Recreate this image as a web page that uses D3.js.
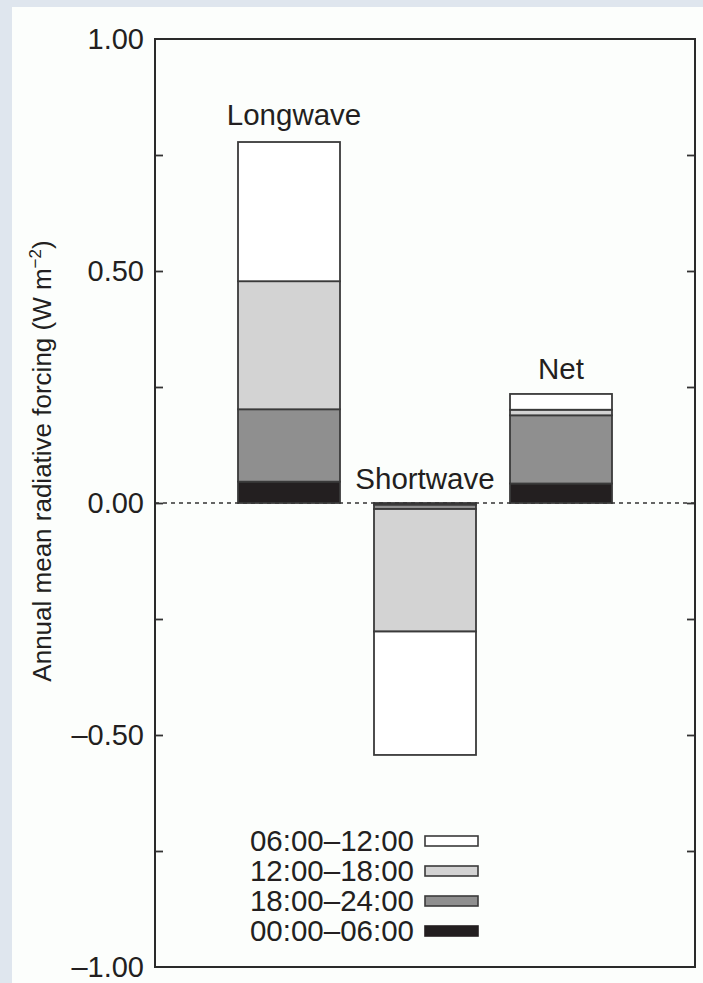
<!DOCTYPE html>
<html>
<head>
<meta charset="utf-8">
<script src="https://cdn.jsdelivr.net/npm/d3@7"></script>
<style>
  html, body { margin: 0; padding: 0; background: #dfe6ee; }
  svg { display: block; }
  text { font-family: "Liberation Sans", Arial, Helvetica, sans-serif; fill: #231f20; }
</style>
</head>
<body>
<svg id="chart" width="703" height="983"></svg>
<script>
// Forcing components (W m^-2), one value per time-of-day window
const categories = ["Longwave", "Shortwave", "Net"];
const periods = ["00:00–06:00", "18:00–24:00", "12:00–18:00", "06:00–12:00"];
const night   = [0.046, -0.004, 0.042];   // 00:00–06:00
const evening = [0.156, -0.009, 0.147];   // 18:00–24:00
const afternoon = [0.276, -0.264, 0.012]; // 12:00–18:00
const morning = [0.300, -0.266, 0.034];   // 06:00–12:00
const yTicks = [-1, -0.5, 0, 0.5, 1];
const yMinor = [-0.75, -0.25, 0.25, 0.75];
const legendOrder = ["06:00–12:00", "12:00–18:00", "18:00–24:00", "00:00–06:00"];

const fills = {
  "00:00–06:00": "#231f20",
  "18:00–24:00": "#8f8f8f",
  "12:00–18:00": "#d3d3d3",
  "06:00–12:00": "#ffffff"
};

const rows = categories.map((c, i) => ({
  category: c,
  "00:00–06:00": night[i],
  "18:00–24:00": evening[i],
  "12:00–18:00": afternoon[i],
  "06:00–12:00": morning[i]
}));

const svg = d3.select("#chart");

// paper panel
svg.append("rect").attr("x", 12).attr("y", 7).attr("width", 703 - 12).attr("height", 983 - 7)
  .attr("fill", "#fcfefc");

const plot = { left: 155, right: 695, top: 39, bottom: 967 };

const y = d3.scaleLinear().domain([-1, 1]).range([plot.bottom, plot.top]);
const x = d3.scaleBand().domain(categories).range([221, 629])
  .paddingInner(0.25).paddingOuter(0.125);

const stack = d3.stack().keys(periods).offset(d3.stackOffsetDiverging);
const series = stack(rows);

// stacked bars
const layers = svg.append("g").selectAll("g").data(series).join("g")
  .attr("fill", d => fills[d.key]);
layers.selectAll("rect").data(d => d).join("rect")
  .attr("x", d => x(d.data.category))
  .attr("width", x.bandwidth())
  .attr("y", d => y(Math.max(d[0], d[1])))
  .attr("height", d => Math.abs(y(d[0]) - y(d[1])))
  .attr("stroke", "#3a3a3a")
  .attr("stroke-width", 1.8);

// zero reference line
svg.append("line")
  .attr("x1", plot.left).attr("x2", plot.right)
  .attr("y1", y(0)).attr("y2", y(0))
  .attr("stroke", "#333").attr("stroke-width", 1.5)
  .attr("stroke-dasharray", "4,4");

// bar labels
const barTop = rows.map(r => d3.sum(periods, k => Math.max(0, r[k])));
const labelPos = {
  Longwave: [5, y(barTop[0]) - 17],
  Shortwave: [0, y(0) - 14],
  Net: [0, y(barTop[2]) - 15]
};
svg.append("g").selectAll("text").data(categories).join("text")
  .attr("x", d => x(d) + x.bandwidth() / 2 + labelPos[d][0])
  .attr("y", d => labelPos[d][1])
  .attr("text-anchor", "middle")
  .attr("font-size", 29.5)
  .text(d => d);

// axes
const fmt = d => d3.format(".2f")(d).replace("−", "–");
const axL = svg.append("g").attr("transform", `translate(${plot.left},0)`)
  .call(d3.axisLeft(y).tickValues(yTicks).tickFormat(fmt).tickSize(0).tickPadding(11));
axL.select(".domain").remove();
axL.selectAll("text").attr("font-size", 29).attr("fill", "#231f20")
  .style("font-family", "'Liberation Sans', Arial, sans-serif");

const tickVals = yTicks.concat(yMinor).filter(v => v > -1 && v < 1);
svg.append("g").attr("transform", `translate(${plot.left},0)`)
  .call(d3.axisLeft(y).tickValues(tickVals).tickFormat("").tickSizeInner(-8).tickSizeOuter(0))
  .call(g => g.select(".domain").remove())
  .selectAll("line").attr("stroke", "#333").attr("stroke-width", 1.8);
svg.append("g").attr("transform", `translate(${plot.right},0)`)
  .call(d3.axisRight(y).tickValues(tickVals).tickFormat("").tickSizeInner(-8).tickSizeOuter(0))
  .call(g => g.select(".domain").remove())
  .selectAll("line").attr("stroke", "#333").attr("stroke-width", 1.8);

// frame
svg.append("rect")
  .attr("x", plot.left).attr("y", plot.top)
  .attr("width", plot.right - plot.left).attr("height", plot.bottom - plot.top)
  .attr("fill", "none").attr("stroke", "#2a2a2a").attr("stroke-width", 2);

// y title
const title = svg.append("text")
  .attr("transform", "translate(51,461) rotate(-90)")
  .attr("text-anchor", "middle")
  .attr("font-size", 26);
title.append("tspan").text("Annual mean radiative forcing (W m");
title.append("tspan").attr("dy", -10).attr("font-size", 17).text("−2");
title.append("tspan").attr("dy", 10).text(")");

// legend
const legend = svg.append("g").selectAll("g").data(legendOrder).join("g")
  .attr("transform", (d, i) => `translate(0,${841 + i * 30})`);
legend.append("text")
  .attr("x", 414).attr("y", 0).attr("dy", "0.35em")
  .attr("text-anchor", "end").attr("font-size", 29.5)
  .text(d => d);
legend.append("rect")
  .attr("x", 425).attr("y", -5).attr("width", 53).attr("height", 10)
  .attr("fill", d => fills[d])
  .attr("stroke", d => d === "00:00–06:00" ? "#231f20" : "#3a3a3a")
  .attr("stroke-width", 1.6);
</script>
</body>
</html>
